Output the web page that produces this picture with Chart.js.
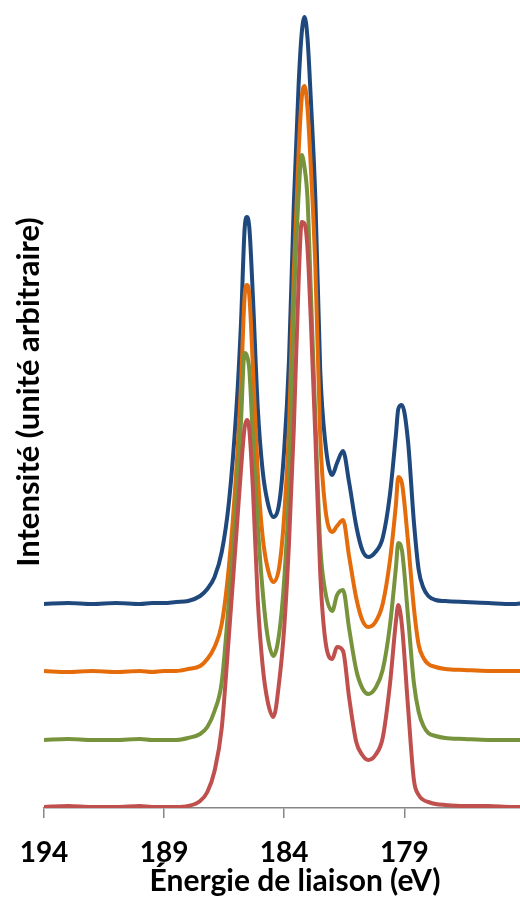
<!DOCTYPE html>
<html>
<head>
<meta charset="utf-8">
<script src="https://cdn.jsdelivr.net/npm/chart.js@4/dist/chart.umd.min.js"></script>
<style>
  html, body { margin: 0; padding: 0; background: #ffffff; overflow: hidden; }
  /* la zone de tracé d'origine dépasse un peu du cadre (haut et droite) */
  #xpsChart { display: block; margin-top: -24px; }
</style>
</head>
<body>
<canvas id="xpsChart" width="546" height="923"></canvas>
<script>
// Énergies de liaison (eV), même grille pour les 4 spectres
const energies = [194, 193, 192, 191, 190, 189.5, 189, 188.5, 188, 187.5,
    187.2, 186.9, 186.6, 186.3, 186.0, 185.8, 185.65, 185.55, 185.45, 185.3,
    185.1, 184.9, 184.7, 184.45, 184.2, 184.0, 183.8, 183.6, 183.4, 183.27,
    183.15, 183.03, 182.9, 182.7, 182.5, 182.3, 182.0, 181.8, 181.55, 181.3,
    181.0, 180.75, 180.5, 180.2, 179.9, 179.6, 179.35, 179.25, 179.1, 178.85,
    178.6, 178.4, 178.2, 178.0, 177.7, 177.3, 176.5, 175.5, 174.5, 174];

// Intensités (unité arbitraire), spectres décalés verticalement
const serieBleue = [204, 205, 204, 205, 204, 205, 205, 206, 207, 212,
    219, 231, 256, 306, 395, 484, 578, 591, 580, 510,
    400, 338, 307, 291, 306, 358, 448, 603, 723, 775,
    791, 770, 713, 608, 438, 368, 333, 345, 357, 326,
    282, 258, 251, 256, 270, 313, 373, 399, 403, 368,
    286, 238, 220, 212, 208, 207, 206, 205, 204, 205];
const serieOrange = [137, 136, 137, 136, 137, 136, 137, 137, 139, 142,
    149, 161, 184, 242, 335, 422, 511, 523, 512, 440,
    335, 272, 241, 226, 242, 292, 380, 535, 655, 710,
    722, 700, 645, 540, 372, 302, 276, 282, 288, 252,
    210, 188, 181, 186, 204, 247, 303, 331, 325, 268,
    200, 163, 150, 144, 141, 139, 138, 137, 137, 137];
const serieVerte = [68, 69, 68, 68, 69, 68, 68, 68, 70, 74,
    81, 97, 126, 208, 303, 386, 455, 452, 438, 368,
    283, 218, 173, 152, 176, 228, 318, 498, 613, 653,
    640, 610, 523, 388, 263, 218, 197, 213, 218, 180,
    138, 120, 114, 120, 138, 182, 240, 265, 258, 193,
    125, 96, 82, 75, 72, 70, 69, 68, 68, 68];
const serieRouge = [1, 2, 1, 1, 2, 1, 1, 1, 2, 7,
    16, 37, 80, 173, 271, 338, 380, 388, 378, 318,
    208, 143, 108, 91, 128, 180, 265, 379, 526, 586,
    584, 560, 493, 370, 235, 170, 149, 161, 157, 111,
    66, 53, 48, 53, 70, 123, 186, 203, 183, 103,
    28, 13, 8, 6, 4, 3, 2, 2, 1, 1];

// Graduations de l'axe des énergies
const xTicks = [194, 189, 184, 179];
const xMin = 173.1;
const xMax = 194;
const yMin = 0;
const yMax = 832;

let myXpsChart = null;

function toPoints(serie) {
    return energies.map((e, i) => ({ x: e, y: serie[i] }));
}

function makeDataset(serie, color, order) {
    return {
        data: toPoints(serie),
        borderColor: color,
        backgroundColor: color,
        borderWidth: 4,
        pointRadius: 0,
        cubicInterpolationMode: 'monotone',
        fill: false,
        order: order
    };
}

function loadXpsChart() {
    const ctx = document.getElementById('xpsChart').getContext('2d');
    if (myXpsChart) myXpsChart.destroy();

    myXpsChart = new Chart(ctx, {
        type: 'line',
        data: {
            datasets: [
                makeDataset(serieBleue, '#1F497D', 4),
                makeDataset(serieOrange, '#E46C0A', 3),
                makeDataset(serieVerte, '#77933C', 2),
                makeDataset(serieRouge, '#C0504D', 1)
            ]
        },
        options: {
            responsive: false,
            animation: false,
            layout: { padding: 0 },
            plugins: {
                legend: { display: false },
                tooltip: { enabled: false }
            },
            scales: {
                x: {
                    type: 'linear',
                    reverse: true,
                    min: xMin,
                    max: xMax,
                    afterBuildTicks: (scale) => {
                        scale.ticks = xTicks.map(v => ({ value: v }));
                    },
                    afterFit: (scale) => { scale.height = 91; },
                    grid: {
                        drawOnChartArea: false,
                        drawTicks: true,
                        tickLength: 10,
                        color: '#868686',
                        lineWidth: 1.5
                    },
                    border: { display: true, color: '#868686', width: 1.5 },
                    ticks: {
                        color: '#000000',
                        font: { family: 'Lato', size: 28, weight: 'bold' },
                        padding: 18,
                        maxRotation: 0,
                        callback: (v) => String(v)
                    },
                    title: {
                        display: true,
                        text: 'Énergie de liaison (eV)',
                        color: '#000000',
                        font: { family: 'Lato', size: 30, weight: 'bold' },
                        padding: { top: -5, bottom: 0 }
                    }
                },
                y: {
                    min: yMin,
                    max: yMax,
                    afterFit: (scale) => { scale.width = 44; },
                    grid: { display: false },
                    border: { display: false },
                    ticks: { display: false },
                    title: {
                        display: true,
                        text: 'Intensité (unité arbitraire)',
                        color: '#000000',
                        font: { family: 'Lato', size: 31, weight: 'bold' },
                        padding: { top: 10, bottom: 0 }
                    }
                }
            }
        }
    });
}

document.addEventListener('DOMContentLoaded', () => {
    loadXpsChart();
});
</script>
</body>
</html>
